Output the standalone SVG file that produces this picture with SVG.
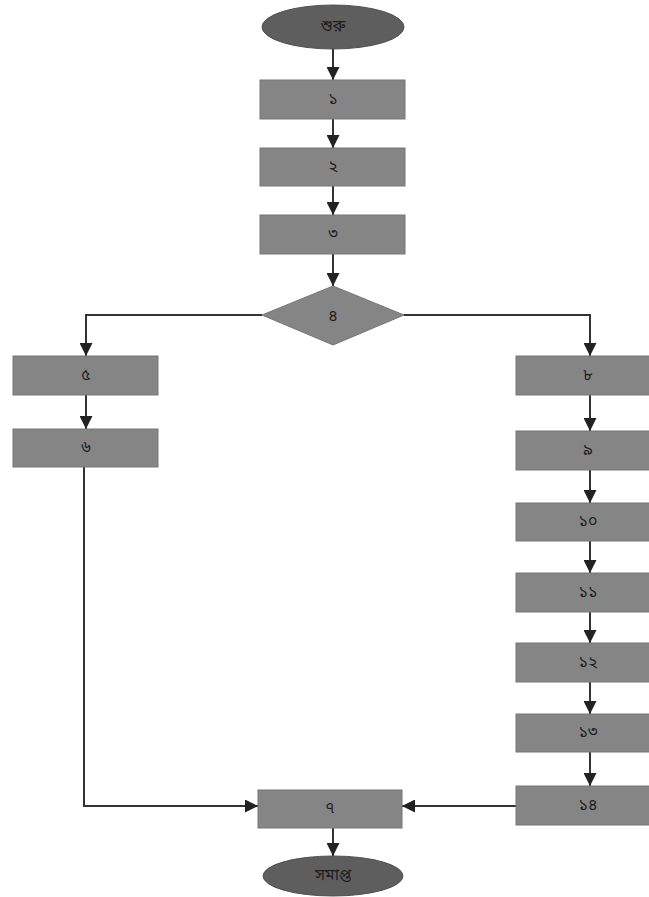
<svg xmlns="http://www.w3.org/2000/svg" width="649" height="897" viewBox="0 0 649 897">
<style>
.box{fill:#858585;stroke:#777777;stroke-width:1}
.term{fill:#5e5e5e;stroke:#505050;stroke-width:1}
.lbl{font-family:"Noto Sans Bengali","Noto Sans",sans-serif;font-size:16px;fill:#1e1e1e;text-anchor:middle;dominant-baseline:central}
.c{fill:none;stroke:#333333;stroke-width:2}
</style>
<defs>
<marker id="ah" viewBox="0 0 10 10" refX="10" refY="5" markerWidth="14" markerHeight="13" markerUnits="userSpaceOnUse" orient="auto">
<path d="M0,0 L10,5 L0,10 z" fill="#222222"/>
</marker>
</defs>
<rect width="649" height="897" fill="#ffffff"/>
<g id="connectors">
<path class="c" marker-end="url(#ah)" d="M333,49 V80"/>
<path class="c" marker-end="url(#ah)" d="M333,119 V148"/>
<path class="c" marker-end="url(#ah)" d="M333,186 V215"/>
<path class="c" marker-end="url(#ah)" d="M333,254 V286"/>
<path class="c" marker-end="url(#ah)" d="M262,315 H86 V356"/>
<path class="c" marker-end="url(#ah)" d="M404,315 H590 V356"/>
<path class="c" marker-end="url(#ah)" d="M86,395 V429"/>
<path class="c" marker-end="url(#ah)" d="M84,467 V806 H258"/>
<path class="c" marker-end="url(#ah)" d="M590,395 V431"/>
<path class="c" marker-end="url(#ah)" d="M590,470 V503"/>
<path class="c" marker-end="url(#ah)" d="M590,541 V573"/>
<path class="c" marker-end="url(#ah)" d="M590,612 V643"/>
<path class="c" marker-end="url(#ah)" d="M590,682 V714"/>
<path class="c" marker-end="url(#ah)" d="M590,752 V786"/>
<path class="c" marker-end="url(#ah)" d="M516,806 H402"/>
<path class="c" marker-end="url(#ah)" d="M333,828 V856"/>
</g>
<g id="start"><ellipse class="term" cx="333" cy="27" rx="71" ry="22"/><text class="lbl" x="333" y="27">শুরু</text></g>
<g id="n1"><rect class="box" x="260" y="80" width="145" height="39"/><text class="lbl" x="333" y="100">১</text></g>
<g id="n2"><rect class="box" x="260" y="148" width="145" height="38"/><text class="lbl" x="333" y="167">২</text></g>
<g id="n3"><rect class="box" x="260" y="215" width="145" height="39"/><text class="lbl" x="333" y="235">৩</text></g>
<g id="n4"><polygon class="box" points="333,286 404,315 333,345 262,315"/><text class="lbl" x="333" y="317">৪</text></g>
<g id="n5"><rect class="box" x="13" y="356" width="145" height="39"/><text class="lbl" x="86" y="376">৫</text></g>
<g id="n6"><rect class="box" x="13" y="429" width="145" height="38"/><text class="lbl" x="86" y="448">৬</text></g>
<g id="n8"><rect class="box" x="516" y="356" width="145" height="39"/><text class="lbl" x="588" y="376">৮</text></g>
<g id="n9"><rect class="box" x="516" y="431" width="145" height="39"/><text class="lbl" x="588" y="451">৯</text></g>
<g id="n10"><rect class="box" x="516" y="503" width="145" height="38"/><text class="lbl" x="588" y="522">১০</text></g>
<g id="n11"><rect class="box" x="516" y="573" width="145" height="39"/><text class="lbl" x="588" y="593">১১</text></g>
<g id="n12"><rect class="box" x="516" y="643" width="145" height="39"/><text class="lbl" x="588" y="663">১২</text></g>
<g id="n13"><rect class="box" x="516" y="714" width="145" height="38"/><text class="lbl" x="588" y="733">১৩</text></g>
<g id="n14"><rect class="box" x="516" y="786" width="145" height="39"/><text class="lbl" x="588" y="806">১৪</text></g>
<g id="n7"><rect class="box" x="258" y="790" width="144" height="38"/><text class="lbl" x="330" y="809">৭</text></g>
<g id="end"><ellipse class="term" cx="333" cy="876" rx="70" ry="20"/><text class="lbl" x="333" y="876">সমাপ্ত</text></g>
</svg>
